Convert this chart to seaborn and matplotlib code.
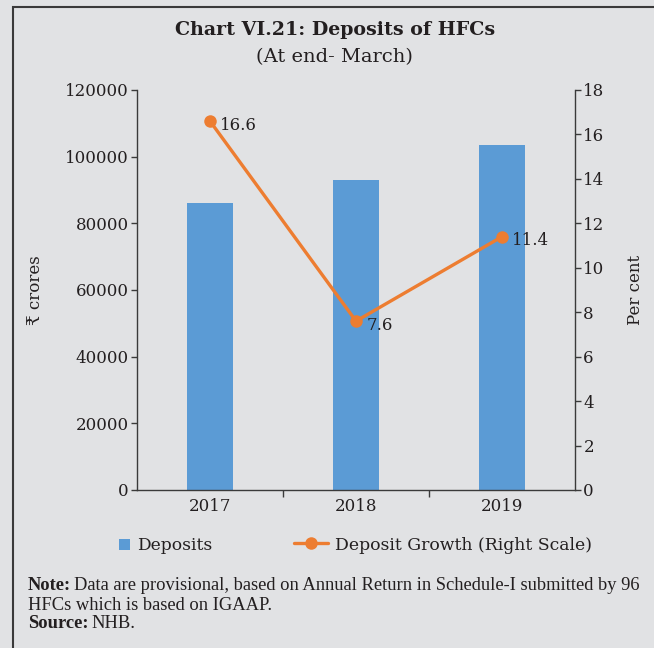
import numpy as np
import pandas as pd
import matplotlib
matplotlib.use("Agg")
import matplotlib.pyplot as plt
import seaborn as sns
from matplotlib.patches import Patch, Rectangle
from matplotlib.lines import Line2D
from matplotlib.ticker import FixedLocator

years = ["2017", "2018", "2019"]
deposits = [86100, 93000, 103500]
growth = [16.6, 7.6, 11.4]
left_ticks = [0, 20000, 40000, 60000, 80000, 100000, 120000]
right_ticks = [0, 2, 4, 6, 8, 10, 12, 14, 16, 18]

BG = "#e1e2e4"
BAR = "#5b9bd5"
LINE = "#ed7d31"
TXT = "#231f20"
SPINE = "#3a3a3a"

sns.set_theme(style="white")
plt.rcParams["font.family"] = ["DejaVu Serif", "DejaVu Sans", "Noto Sans"]
plt.rcParams["text.color"] = TXT

fig = plt.figure(figsize=(6.54, 6.48), dpi=100, facecolor=BG)
W, H = 654, 648
ax = fig.add_axes([137 / W, 1 - 490 / H, (575 - 137) / W, 400 / H])
ax.set_facecolor(BG)

df = pd.DataFrame({"year": years, "deposits": deposits, "growth": growth})
sns.barplot(data=df, x="year", y="deposits", color=BAR, width=0.315,
            saturation=1, linewidth=0, edgecolor="none", ax=ax, zorder=2)
ax.set_xlim(-0.5, 2.5)
ax.set_ylim(0, 120000)
ax.set_yticks(left_ticks)
ax.set_yticklabels([str(t) for t in left_ticks])
ax.set_xlabel("")
ax.set_ylabel("")

ax2 = ax.twinx()
pos = np.arange(len(years))
sns.lineplot(x=pos, y=growth, ax=ax2, color=LINE, linewidth=2.4,
             marker="o", markersize=9, markeredgewidth=0, zorder=3)
ax2.set_ylim(0, 18)
ax2.set_yticks(right_ticks)
ax2.set_yticklabels([str(t) for t in right_ticks])
ax2.set_xlim(-0.5, 2.5)

for x, v in zip(pos, growth):
    ax2.annotate(f"{v:.1f}", (x, v), xytext=(7.5, -3), textcoords="offset points",
                 ha="left", va="center", fontsize=12, color=TXT)

for a in (ax, ax2):
    for s in a.spines.values():
        s.set_color(SPINE)
        s.set_linewidth(1.0)
    a.spines["top"].set_visible(False)
ax.spines["right"].set_visible(False)
ax2.spines["left"].set_visible(False)
ax2.spines["bottom"].set_visible(False)

ax.tick_params(axis="y", which="major", direction="out", length=4, width=1,
               color=SPINE, labelsize=12, labelcolor=TXT, pad=2, left=True)
ax.tick_params(axis="x", which="major", length=0, labelsize=12, labelcolor=TXT, pad=6)
ax.xaxis.set_minor_locator(FixedLocator([0.5, 1.5]))
ax.tick_params(axis="x", which="minor", direction="out", length=5, width=1,
               color=SPINE, bottom=True)
ax2.tick_params(axis="y", direction="out", length=4, width=1, color=SPINE,
                labelsize=12, labelcolor=TXT, pad=2, right=True)

fig.text(35 / W, 1 - 290 / H, "₹ crores", rotation=90, ha="center", va="center",
         fontsize=12, family=["DejaVu Serif", "DejaVu Sans", "Noto Sans"])
fig.text(635 / W, 1 - 290 / H, "Per cent", rotation=90, ha="center", va="center",
         fontsize=12)

fig.text(335 / W, 1 - 30 / H, "Chart VI.21: Deposits of HFCs", ha="center",
         va="center", fontsize=13.7, fontweight="bold")
fig.text(334 / W, 1 - 57 / H, "(At end- March)", ha="center", va="center",
         fontsize=14)

# legends
h1 = [Patch(facecolor=BAR, edgecolor="none")]
leg1 = fig.legend(h1, ["Deposits"], loc="center left",
                  bbox_to_anchor=(119 / W, 1 - 546 / H), frameon=False,
                  fontsize=12.3, handlelength=0.65, handleheight=0.65,
                  handletextpad=0.4, borderpad=0, borderaxespad=0)
h2 = [Line2D([0], [0], color=LINE, lw=2.4, marker="o", markersize=9,
             markeredgewidth=0)]
leg2 = fig.legend(h2, ["Deposit Growth (Right Scale)"], loc="center left",
                  bbox_to_anchor=(294 / W, 1 - 545 / H), frameon=False,
                  fontsize=12.4, handlelength=2.0, handletextpad=0.4,
                  borderpad=0, borderaxespad=0)

# notes
note_font = ["Liberation Serif", "DejaVu Serif"]
NFS = 13.3
fig.canvas.draw()
r = fig.canvas.get_renderer()
t1 = fig.text(28 / W, 1 - 586 / H, "Note:", fontsize=NFS, fontweight="bold",
              family=note_font, va="center", ha="left")
bb = t1.get_window_extent(renderer=r)
fig.text(bb.x1 / W + 3 / W, 1 - 586 / H,
         "Data are provisional, based on Annual Return in Schedule-I submitted by 96",
         fontsize=NFS, family=note_font, va="center", ha="left")
fig.text(28 / W, 1 - 605 / H, "HFCs which is based on IGAAP.", fontsize=NFS,
         family=note_font, va="center", ha="left")
t3 = fig.text(28 / W, 1 - 624 / H, "Source:", fontsize=NFS, fontweight="bold",
              family=note_font, va="center", ha="left")
bb3 = t3.get_window_extent(renderer=r)
fig.text(bb3.x1 / W + 3 / W, 1 - 624 / H, "NHB.", fontsize=NFS, family=note_font,
         va="center", ha="left")

# border
fig.add_artist(Rectangle((13 / W, -0.01), 1.0, 1 - 7 / H + 0.01,
                         transform=fig.transFigure, fill=False,
                         edgecolor="#3a3a3a", linewidth=1.5))

fig.savefig("out.png", dpi=100, facecolor=BG)
